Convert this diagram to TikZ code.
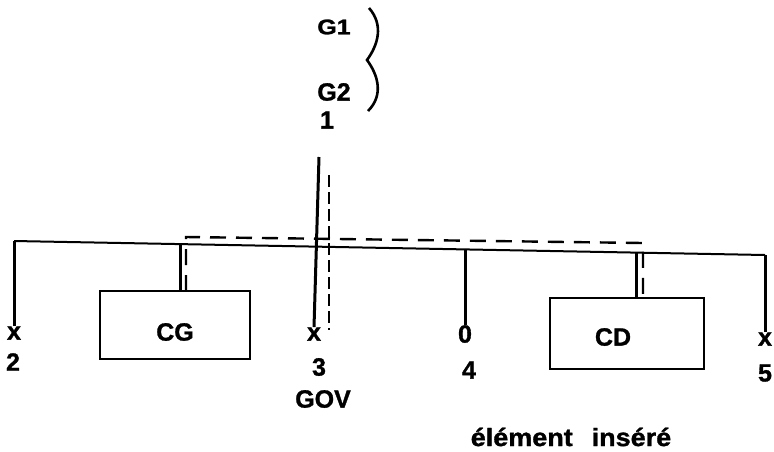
\documentclass[tikz,border=0pt]{standalone}
\usepackage{fontspec}
\setmainfont{Liberation Sans}[BoldFeatures={FakeBold=1.2}]
\begin{document}
\begin{tikzpicture}[x=1pt,y=-1pt,
  lbl/.style={font=\fontsize{25}{27}\selectfont\bfseries, inner sep=0pt},
  xmark/.style={font=\fontsize{25}{27}\selectfont\bfseries, inner sep=0pt},
  box/.style={draw, line width=2.4pt, rectangle, inner sep=0pt},
  thinln/.style={line width=2pt},
  thickln/.style={line width=3pt},
  dsh/.style={line width=2.4pt, dash pattern=on 16pt off 10pt},
  vdsh/.style={line width=2.8pt, dash pattern=on 12pt off 5pt}]
\useasboundingbox (0,0) rectangle (774,451);
% texts
\node[lbl, yscale=0.85] (g1) at (334,27) {G1};
\node[lbl] (g2) at (334,92) {G2};
\node[lbl] (one) at (327,120) {1};
\draw[line width=2.6pt] (369,8) .. controls (384,25) and (378,45) .. (367,60)
  .. controls (378,75) and (384,95) .. (368,111);
% end markers
\node[xmark] (x2) at (14,333) {x};
\node[xmark] (x3) at (314,334) {x};
\node[xmark] (x5) at (765,339) {x};
\node[lbl] (o4) at (465,334) {0};
\node[lbl] (l2) at (13,362) {2};
\node[lbl] (l3) at (319,367) {3};
\node[lbl] (l4) at (469,370) {4};
\node[lbl] (l5) at (765,373) {5};
\node[lbl] (gov) at (323,399) {GOV};
\node[lbl, xscale=1.08] (ins) at (571,437) {élément\hspace{0.7em}inséré};
% boxes
\node[box, minimum width=150pt, minimum height=68pt] (cg) at (175,325) {};
\node[lbl] at (175,332) {CG};
\node[box, minimum width=154pt, minimum height=71pt] (cd) at (627,333.5) {};
\node[lbl] at (613,337) {CD};
% coordinates on the main line
\coordinate (a) at (14,241);
\coordinate (b) at (765,255);
\coordinate (pcg) at (180,244);
\coordinate (p4) at (465,249.4);
\coordinate (pcd) at (636,252.5);
\coordinate (top1) at (319,157);
\coordinate (dtop) at (329,175);
\coordinate (dbot) at (329,330);
% main line
\draw[thinln] (a) -- (b);
\draw[thickln] (a) -- (x2.north);
\draw[thickln] (b) -- (x5.north);
\draw[thickln] (pcg) -- (pcg |- cg.north);
\draw[thickln] (p4) -- (o4.north);
\draw[thickln] (pcd) -- (pcd |- cd.north);
% central axis
\draw[thickln] (top1) -- (x3.north);
\draw[vdsh] (dtop) -- (dbot);
% dashed path
\draw[dsh] (186,291) -- (186,237) -- (643,243) -- (643,298);
\end{tikzpicture}
\end{document}
